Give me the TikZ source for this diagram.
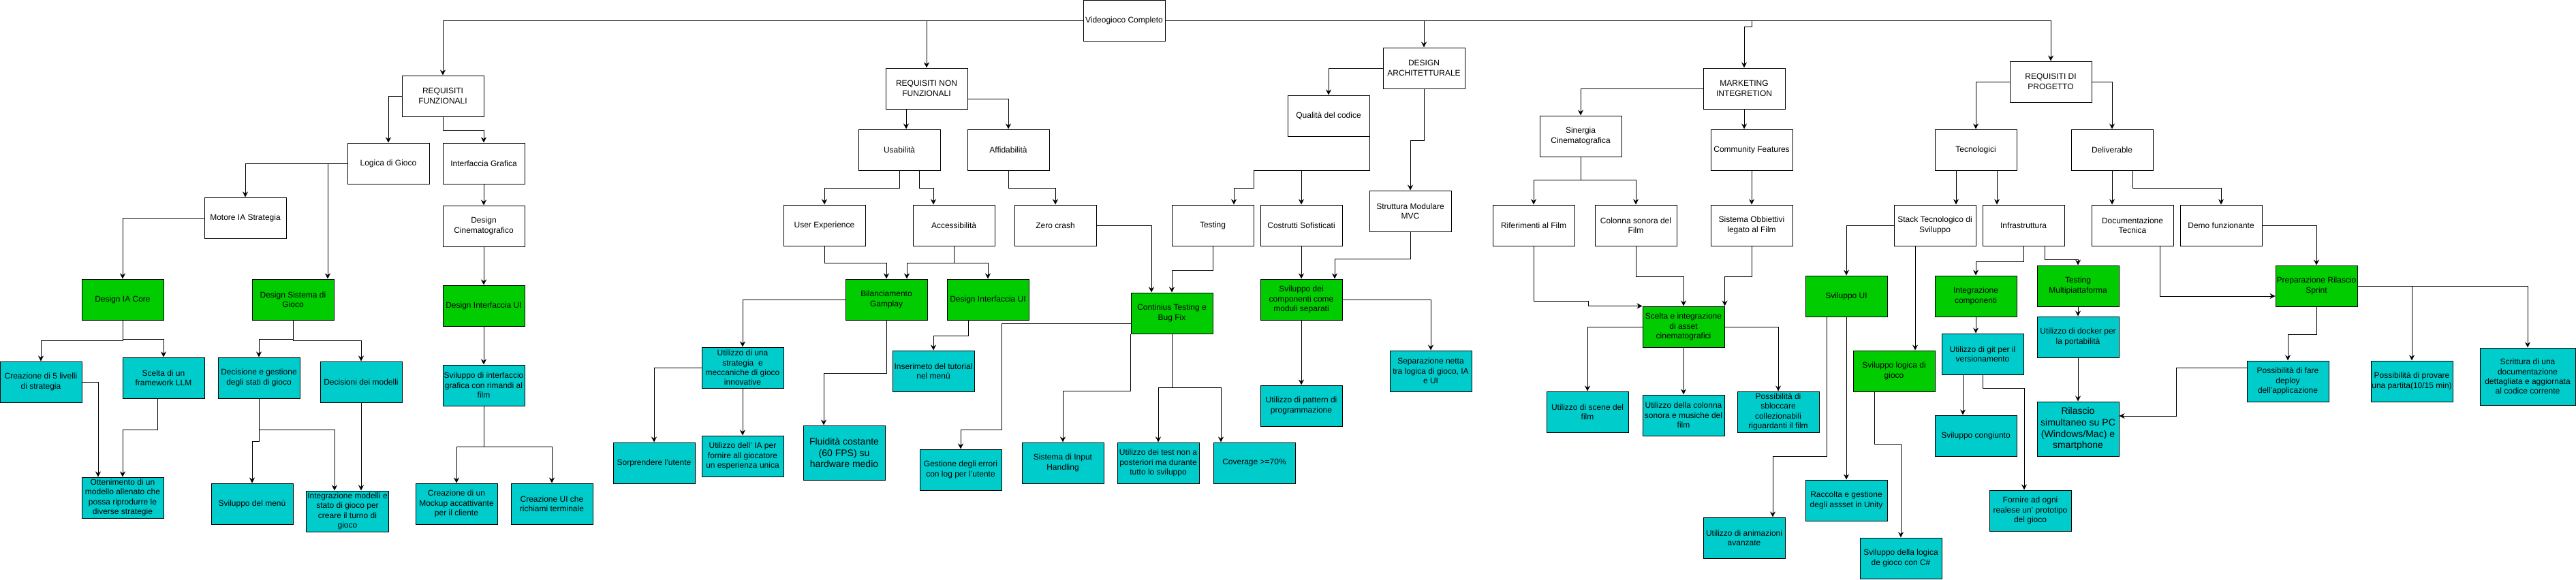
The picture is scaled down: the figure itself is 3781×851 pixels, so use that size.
\documentclass[tikz,border=0pt]{standalone}
\usepackage{fontspec}
\setmainfont{Liberation Sans}
\usepackage{xcolor}
\usetikzlibrary{arrows.meta, positioning, calc}
\definecolor{goalgreen}{HTML}{00CC00}
\definecolor{taskcyan}{HTML}{00CCCC}
\tikzset{
    whitebox/.style={
        rectangle,
        draw=black,
        line width=0.75pt,
        minimum width=90pt,
        minimum height=45pt,
        inner sep=1pt,
        fill=white,
        align=center,
        font=\fontsize{9}{10.8}\selectfont
    },
    greenbox/.style={
        whitebox,
        fill=goalgreen
    },
    cyanbox/.style={
        whitebox,
        fill=taskcyan
    },
    bigbox/.style={
        minimum height=60pt,
        font=\fontsize{10.5}{12.6}\selectfont
    },
    wire/.style={
        draw=black,
        line width=0.75pt,
        -{Stealth[length=6pt,width=6pt]}
    }
}
\begin{document}
\begin{tikzpicture}[x=0.75pt, y=-0.75pt]
\useasboundingbox (0,0) rectangle (3781,851);

% Root
\node[whitebox] (vg) at (1650,30) {Videogioco Completo};

% Requisiti funzionali
\node[whitebox] (rf) at (650,141) {REQUISITI\\FUNZIONALI};
\node[whitebox] (logica) at (570,240) {Logica di Gioco};
\node[whitebox] (interf) at (710,240) {Interfaccia Grafica};
\node[whitebox, below=23.25pt of interf] (cinema) {Design\\Cinematografico};
\node[greenbox, below=42pt of cinema] (uiA) {Design Interfaccia UI};
\node[cyanbox, below=42pt of uiA] (svInterf) {Sviluppo di interfaccio\\grafica con rimandi al\\film};
\node[cyanbox] (mockup) at (670,740) {Creazione di un\\Mockup accattivante\\per il cliente};
\node[cyanbox] (terminale) at (810,740) {Creazione UI che\\richiami terminale};
\node[whitebox] (motore) at (360,320) {Motore IA Strategia};
\node[greenbox] (iaCore) at (180,440) {Design IA Core};
\node[greenbox] (sistGioco) at (430,440) {Design Sistema di\\Gioco};
\node[cyanbox] (livelli) at (60,561) {Creazione di 5 livelli\\di strategia};
\node[cyanbox] (llm) at (240,555) {Scelta di un\\framework LLM};
\node[cyanbox] (decGest) at (380,555) {Decisione e gestione\\degli stati di gioco};
\node[cyanbox] (decModelli) at (530,561) {Decisioni dei modelli};
\node[cyanbox] (ottenimento) at (180,731) {Ottenimento di un\\modello allenato che\\possa riprodurre le\\diverse strategie};
\node[cyanbox] (menu) at (370,740) {Sviluppo del menù};
\node[cyanbox] (integModelli) at (510,751) {Integrazione modelli e\\stato di gioco per\\creare il turno di\\gioco};

\draw[wire] (vg.west) -| (rf.north);
\draw[wire] (rf.west) -| (logica.north);
\draw[wire] (rf.south) -- ++(0,20) -| (interf.north);
\draw[wire] (interf) -- (cinema);
\draw[wire] (cinema) -- (uiA);
\draw[wire] (uiA) -- (svInterf);
\draw[wire] (svInterf.south) -- ++(0,60) -| (mockup.north);
\draw[wire] (svInterf.south) -- ++(0,60) -| (terminale.north);
\draw[wire] (logica.west) -| (motore.north);
\draw[wire] (logica.west) -| ($(sistGioco.north)+(51,0)$);
\draw[wire] (motore.west) -| (iaCore.north);
\draw[wire] (iaCore.south) -- ++(0,30) -| (livelli.north);
\draw[wire] (iaCore.south) -- ++(0,28) -| (llm.north);
\draw[wire] (livelli.east) -| ($(ottenimento.north)+(-36,0)$);
\draw[wire] ($(llm.south)+(-9,0)$) -- ++(0,46) -| (ottenimento.north);
\draw[wire] (sistGioco.south) -- ++(0,28) -| (decGest.north);
\draw[wire] (sistGioco.south) -- ++(0,30) -| (decModelli.north);
\draw[wire] (decGest.south) -- ++(0,46) -| ($(integModelli.north)+(-19,0)$);
\draw[wire] (decGest.south) -- ++(0,63) -| (menu.north);
\draw[wire] (decModelli.south) -- (decModelli.south |- integModelli.north);

% Requisiti non funzionali
\node[whitebox] (rnf) at (1360,130) {REQUISITI NON\\FUNZIONALI};
\node[whitebox] (usab) at (1320,220) {Usabilità};
\node[whitebox] (affid) at (1480,220) {Affidabilità};
\node[whitebox] (ux) at (1210,331) {User Experience};
\node[whitebox] (access) at (1400,331) {Accessibilità};
\node[whitebox] (zero) at (1549,331) {Zero crash};
\node[greenbox] (bil) at (1301,440) {Bilanciamento\\Gamplay};
\node[greenbox] (uiB) at (1450,440) {Design Interfaccia UI};
\node[cyanbox] (strategia) at (1090,540) {Utilizzo di una\\strategia\ \ e\\meccaniche di gioco\\innovative};
\node[cyanbox] (iaUnica) at (1090,670) {Utilizzo dell' IA per\\fornire all giocatore\\un esperienza unica};
\node[cyanbox] (sorprendere) at (960,680) {Sorprendere l'utente};
\node[cyanbox, bigbox] (fluidita) at (1239,665) {Fluidità costante\\(60 FPS) su\\hardware medio};
\node[cyanbox] (tutorial) at (1370,545) {Inserimeto del tutorial\\nel menù};
\node[cyanbox] (errori) at (1410,690) {Gestione degli errori\\con log per l'utente};
\node[cyanbox] (input) at (1560,680) {Sistema di Input\\Handling};

\draw[wire] (vg.west) -| (rnf.north);
\draw[wire] ($(rnf.south)+(-30,0)$) -- ($(usab.north)+(10,0)$);
\draw[wire] ($(rnf.east)+(0,15)$) -| (affid.north);
\draw[wire] (usab.south) -- ++(0,26) -| (ux.north);
\draw[wire] ($(usab.south)+(29,0)$) -- ++(0,26) -| ($(access.north)+(-30,0)$);
\draw[wire] (affid.south) -- ++(0,26) -| (zero.north);
\draw[wire] (ux.south) -- ++(0,25) -| (bil.north);
\draw[wire] (access.south) -- ++(0,25) -| ($(bil.north)+(30,0)$);
\draw[wire] (access.south) -- ++(0,25) -| (uiB.north);
\draw[wire] (bil.west) -| (strategia.north);
\draw[wire] (strategia) -- (iaUnica);
\draw[wire] (strategia.west) -| (sorprendere.north);
\draw[wire] (bil.south) -- ++(0,78) -| ($(fluidita.north)+(-30,0)$);
\draw[wire] ($(uiB.south)+(-29,0)$) -- ++(0,23) -| (tutorial.north);

% Design architetturale
\node[whitebox] (da) at (2090,100) {DESIGN\\ARCHITETTURALE};
\node[whitebox] (qualita) at (1950,170) {Qualità del codice};
\node[whitebox] (testing) at (1780,331) {Testing};
\node[whitebox] (costrutti) at (1910,331) {Costrutti Sofisticati};
\node[whitebox] (mvc) at (2070,310) {Struttura Modulare\\MVC};
\node[greenbox] (cont) at (1720,460) {Continius Testing e\\Bug Fix};
\node[greenbox] (moduli) at (1910,440) {Sviluppo dei\\componenti come\\moduli separati};
\node[cyanbox] (separazione) at (2100,545) {Separazione netta\\tra logica di gioco, IA\\e UI};
\node[cyanbox] (pattern) at (1910,596) {Utilizzo di pattern di\\programmazione};
\node[cyanbox] (testDurante) at (1700,680) {Utilizzo dei test non a\\posteriori ma durante\\tutto lo sviluppo};
\node[cyanbox] (coverage) at (1841,680) {Coverage >=70\%};

\draw[wire] (vg.east) -| (da.north);
\draw[wire] (da.west) -| (qualita.north);
\draw[wire] (qualita.south east) -- ++(0,50) -- ++(-170,0) -- ++(0,26) -| ($(testing.north)+(31,0)$);
\draw[wire] (qualita.south east) -- ++(0,50) -| (costrutti.north);
\draw[wire] (da.south) -- ++(0,76) -| (mvc.north);
\draw[wire] (mvc.south) -- ++(0,40) -| ($(moduli.north)+(49,0)$);
\draw[wire] (costrutti) -- (moduli);
\draw[wire] (moduli.east) -| (separazione.north);
\draw[wire] (moduli) -- (pattern);
\draw[wire] (zero.east) -| ($(cont.north)+(-30,0)$);
\draw[wire] (testing.south) -- ++(0,36) -| (cont.north);
\draw[wire] ($(cont.west)+(0,15)$) -- ++(-189,0) -- ++(0,156) -| (errori.north);
\draw[wire] (cont.south west) -- ++(0,84) -| (input.north);
\draw[wire] (cont.south) -- ++(0,79) -| (testDurante.north);
\draw[wire] (cont.south) -- ++(0,79) -| ($(coverage.north)+(-49,0)$);

% Marketing
\node[whitebox] (mkt) at (2560,130) {MARKETING\\INTEGRETION};
\node[whitebox] (sinergia) at (2320,200) {Sinergia\\Cinematografica};
\node[whitebox] (community) at (2571,220) {Community Features};
\node[whitebox] (riferimenti) at (2251,331) {Riferimenti al Film};
\node[whitebox] (colonna) at (2401,331) {Colonna sonora del\\Film};
\node[whitebox] (obiettivi) at (2571,331) {Sistema Obbiettivi\\legato al Film};
\node[greenbox] (asset) at (2471,480) {Scelta e integrazione\\di asset\\cinematografici};
\node[cyanbox] (scene) at (2330,605) {Utilizzo di scene del\\film};
\node[cyanbox] (musiche) at (2471,610) {Utilizzo della colonna\\sonora e musiche del\\film};
\node[cyanbox] (collezionabili) at (2610,605) {Possibilità di\\sbloccare\\collezionabili\\riguardanti il film};

\draw[wire] (vg.east) -| ($(mkt.north)+(11,-60)$) -| (mkt.north);
\draw[wire] (mkt.west) -| (sinergia.north);
\draw[wire] (mkt.south) -- (mkt.south |- community.north);
\draw[wire] (community) -- (obiettivi);
\draw[wire] (sinergia.south) -- ++(0,34) -| (riferimenti.north);
\draw[wire] (sinergia.south) -- ++(0,34) -| (colonna.north);
\draw[wire] (riferimenti.south) -- ++(0,81) -- ++(80,0) |- (asset.north west);
\draw[wire] (colonna.south) -- ++(0,45) -| (asset.north);
\draw[wire] (obiettivi.south) -- ++(0,45) -| (asset.north east);
\draw[wire] (asset.west) -| (scene.north);
\draw[wire] (asset.east) -| (collezionabili.north);
\draw[wire] (asset) -- (musiche);

% Requisiti di progetto
\node[whitebox] (rp) at (3010,120) {REQUISITI DI\\PROGETTO};
\node[whitebox] (tecno) at (2900,220) {Tecnologici};
\node[whitebox] (deliv) at (3100,220) {Deliverable};
\node[whitebox] (stack) at (2840,331) {Stack Tecnologico di\\Sviluppo};
\node[whitebox] (infra) at (2970,331) {Infrastruttura};
\node[whitebox] (docTec) at (3130,331) {Documentazione\\Tecnica};
\node[whitebox] (demo) at (3260,331) {Demo funzionante};
\node[greenbox] (uiDev) at (2710,435) {Sviluppo UI};
\node[greenbox] (logicaDev) at (2780,545) {Sviluppo logica di\\gioco};
\node[greenbox] (integComp) at (2900,435) {Integrazione\\componenti};
\node[greenbox] (testMulti) at (3050,420) {Testing\\Multipiattaforma};
\node[cyanbox] (git) at (2910,520) {Utilizzo di git per il\\versionamento};
\node[cyanbox] (docker) at (3050,495) {Utilizzo di docker per\\la portabilità};
\node[cyanbox, bigbox] (rilascio) at (3050,630) {Rilascio\\simultaneo su PC\\(Windows/Mac) e\\smartphone};
\node[cyanbox] (congiunto) at (2900,640) {Sviluppo congiunto};
\node[cyanbox] (fornire) at (2980,750) {Fornire ad ogni\\realese un' prototipo\\del gioco};
\node[cyanbox] (animazioni) at (2560,790) {Utilizzo di animazioni\\avanzate};
\node[cyanbox] (raccolta) at (2710,735) {Raccolta e gestione\\degli assset in Unity};
\node[cyanbox] (csharp) at (2790,820) {Sviluppo della logica\\de gioco con C\#};
\node[greenbox] (prep) at (3400,420) {Preparazione Rilascio\\Sprint};
\node[cyanbox] (deploy) at (3358,560) {Possibilità di fare\\deploy\\dell'applicazione};
\node[cyanbox] (provare) at (3540,560) {Possibilità di provare\\una partita(10/15 min)};
\node[cyanbox, minimum width=105pt, minimum height=63pt] (scrittura) at (3710,553) {Scrittura di una\\documentazione\\dettagliata e aggiornata\\al codice corrente};

\draw[wire] (vg.east) -| (rp.north);
\draw[wire] (rp.west) -| (tecno.north);
\draw[wire] (rp.east) -| (deliv.north);
\draw[wire] ($(tecno.south)+(-29,0)$) -- ($(stack.north)+(31,0)$);
\draw[wire] ($(tecno.south)+(31,0)$) -- ($(infra.north)+(-39,0)$);
\draw[wire] (stack.west) -| (uiDev.north);
\draw[wire] ($(stack.south)+(-29,0)$) -- ($(logicaDev.north)+(31,0)$);
\draw[wire] ($(uiDev.south)+(-29,0)$) -- ++(0,205) -| ($(animazioni.north)+(42,0)$);
\draw[wire] (uiDev) -- (raccolta);
\draw[wire] ($(logicaDev.south)+(-29,0)$) -- ++(0,77) -| (csharp.north);
\draw[wire] (infra.south) -- ++(0,23) -| (integComp.north);
\draw[wire] ($(infra.south)+(31,0)$) -- ++(0,20) -| (testMulti.north);
\draw[wire] (integComp.south) -- (integComp.south |- git.north);
\draw[wire] (testMulti) -- (docker);
\draw[wire] (docker) -- (rilascio);
\draw[wire] ($(git.south)+(-29,0)$) -- ($(congiunto.north)+(-19,0)$);
\draw[wire] (git.south) -- ++(0,20) -| ($(fornire.north)+(-9,0)$);
\draw[wire] (deliv.south) -- (deliv.south |- docTec.north);
\draw[wire] ($(deliv.south)+(30,0)$) -- ++(0,26) -| (demo.north);
\draw[wire] ($(docTec.south)+(40,0)$) |- ($(prep.west)+(0,15)$);
\draw[wire] (demo.east) -| (prep.north);
\draw[wire] (prep.south) -- ++(0,41) -| (deploy.north);
\draw[wire] (prep.east) -| (provare.north);
\draw[wire] (prep.east) -| (scrittura.north);
\draw[wire] ($(deploy.west)+(0,-20)$) -- ++(-103,0) |- ($(rilascio.east)+(0,-19)$);

\end{tikzpicture}
\end{document}
